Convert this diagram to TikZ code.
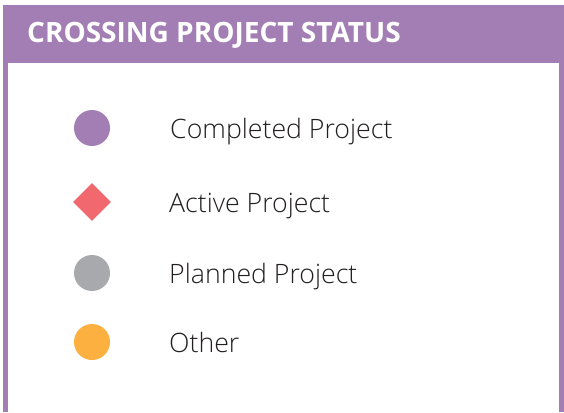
\documentclass[tikz,border=0pt]{standalone}
\usepackage{fontspec}
\setmainfont{Open Sans}
\newfontfamily\itemfont{Open Sans Light}
\usetikzlibrary{positioning, shapes.geometric}
\definecolor{statuspurple}{RGB}{163, 126, 180}
\definecolor{activered}{RGB}{242, 104, 111}
\definecolor{plannedgrey}{RGB}{167, 169, 172}
\definecolor{otherorange}{RGB}{251, 176, 64}
\definecolor{textdark}{RGB}{35, 31, 32}
\tikzset{
    marker/.style={
        circle, minimum size=36pt, inner sep=0pt, draw=none
    },
    itemlabel/.style={
        anchor=base west, inner sep=0pt, text=textdark,
        font=\itemfont\fontsize{26.7}{32}\selectfont
    }
}

\begin{document}
\begin{tikzpicture}[x=1pt, y=-1pt,
        % --- khung tieu de ---
        titletext/.style={
            anchor=base west, inner sep=0pt, text=white,
            font=\bfseries\fontsize{28}{34}\selectfont
        }
    ]
        \useasboundingbox (0,0) rectangle (564,412);

        % ==========================================
        % KHUNG VA TIEU DE
        % ==========================================
        \fill[statuspurple] (3,5) rectangle (564,412);
        \fill[white] (8,63) rectangle (559,412);
        \node[titletext] (title) at (27,43) {CROSSING PROJECT STATUS};

        % ==========================================
        % CAC MUC CHU GIAI
        % ==========================================
        \node[marker, fill=statuspurple] (completed) at (92,128) {};
        \node[itemlabel] (completedtxt) at (170,138) {Completed Project};

        \node[marker, diamond, minimum size=38pt, fill=activered] (active) at (92,202) {};
        \node[itemlabel] (activetxt) at (169,212) {Active Project};

        \node[marker, fill=plannedgrey] (planned) at (92,273) {};
        \node[itemlabel] (plannedtxt) at (169,283) {Planned Project};

        \node[marker, fill=otherorange] (other) at (92,342) {};
        \node[itemlabel] (othertxt) at (169,352) {Other};

    \end{tikzpicture}
\end{document}
